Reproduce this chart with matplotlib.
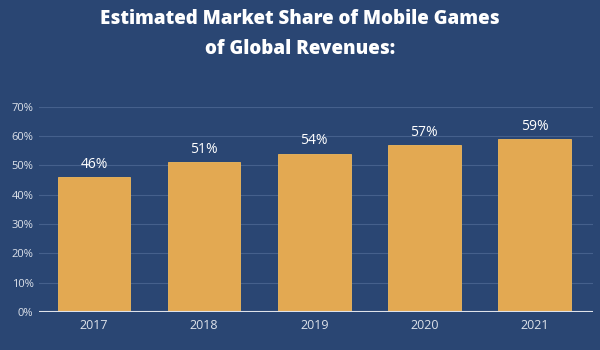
import matplotlib.pyplot as plt
from matplotlib.ticker import FuncFormatter

years = ['2017', '2018', '2019', '2020', '2021']
share = [46, 51, 54, 57, 59]
labels = ['46%', '51%', '54%', '57%', '59%']

bg = '#2a4673'
bar_color = '#e3a952'

fig = plt.figure(figsize=(6, 3.5), dpi=100, facecolor=bg)
ax = fig.add_axes([0.065, 0.109, 0.923, 0.586], facecolor=bg)

x = range(len(years))
bars = ax.bar(x, share, width=0.66, color=bar_color, edgecolor='#f0b85a', linewidth=0.6, zorder=3)

for b, lab in zip(bars, labels):
    ax.text(b.get_x() + b.get_width() / 2, b.get_height() + 1.8, lab,
            ha='center', va='bottom', color='white', fontsize=10, family='Open Sans')

ax.set_xlim(-0.5, 4.53)
ax.set_ylim(0, 70)
ax.set_yticks(range(0, 71, 10))
ax.yaxis.set_major_formatter(FuncFormatter(lambda v, p: f'{int(v)}%'))
ax.set_xticks(list(x))
ax.set_xticklabels(years)
ax.grid(axis='y', color='#45608c', linewidth=0.8, zorder=0)
ax.axhline(0, color='#dfe3ea', linewidth=1.5, zorder=4)

for s in ax.spines.values():
    s.set_visible(False)
ax.tick_params(length=0, colors='#dde2ea', labelsize=8)
ax.tick_params(axis='x', labelsize=9, pad=5)
ax.tick_params(axis='y', pad=4)
for t in ax.get_xticklabels() + ax.get_yticklabels():
    t.set_family('Open Sans')

fig.text(0.5, 0.945, 'Estimated Market Share of Mobile Games', ha='center', va='center',
         color='white', fontsize=13.5, fontweight='heavy', family='Open Sans')
fig.text(0.5, 0.86, 'of Global Revenues:', ha='center', va='center',
         color='white', fontsize=13.5, fontweight='heavy', family='Open Sans')

fig.savefig('out.png', dpi=100, facecolor=bg)
